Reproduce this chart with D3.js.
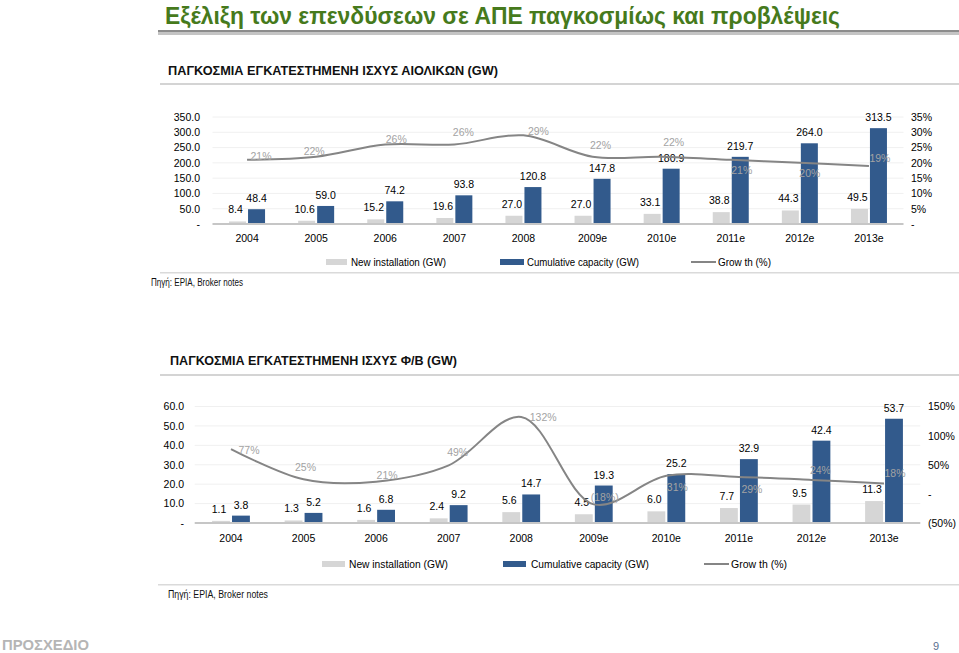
<!DOCTYPE html>
<html><head><meta charset="utf-8">
<script src="https://cdn.jsdelivr.net/npm/d3@7"></script>
<style>body{margin:0;background:#fff}svg{display:block}</style>
</head><body>
<svg id="c" width="959" height="653"></svg>
<script>
// ---------- DATA ----------
const years = ["2004","2005","2006","2007","2008","2009e","2010e","2011e","2012e","2013e"];
const windNew = [8.4,10.6,15.2,19.6,27.0,27.0,33.1,38.8,44.3,49.5];
const windCum = [48.4,59.0,74.2,93.8,120.8,147.8,180.9,219.7,264.0,313.5];
const windGrowth = [21,22,26,26,29,22,22,21,20,19];
const windLeftTicks = [0,50,100,150,200,250,300,350];
const windRightTicks = [0,5,10,15,20,25,30,35];
const pvNew = [1.1,1.3,1.6,2.4,5.6,4.5,6.0,7.7,9.5,11.3];
const pvCum = [3.8,5.2,6.8,9.2,14.7,19.3,25.2,32.9,42.4,53.7];
const pvGrowth = [77,25,21,49,132,-18,31,29,24,18];
const pvLeftTicks = [0,10,20,30,40,50,60];
const pvRightTicks = [-50,0,50,100,150];
const seriesNames = ["New  installation (GW)","Cumulative capacity (GW)","Grow th (%)"];

// ---------- LAYOUT (label nudges relative to line points) ----------
const windLabelNudge = [[14,-4],[-2,-6],[11,-6],[9,-13],[15,-4],[8,-12],[12,-15],[11,10],[10,10],[11,-8]];
const pvLabelNudge = [[18,1],[2,-12],[11,-7],[9,-13],[22,0],[11,-7],[11,11],[13,12],[9,-10],[11,-10]];

const svg = d3.select("#c");
const BLUE = "#325a8c", LGRAY = "#d6d6d6", LINE = "#858585", GLAB = "#a3a3a3";
const F = "'Liberation Sans', Arial, sans-serif";
const FN = "'Liberation Sans Narrow','Arial Narrow','Liberation Sans',Arial,sans-serif";

// ---------- header ----------
svg.append("text").attr("x",165).attr("y",24).attr("font-family",FN).attr("font-size",24)
  .attr("font-weight","bold")
  .attr("fill","#467a1c").attr("textLength",675).attr("lengthAdjust","spacingAndGlyphs")
  .text("Εξέλιξη των επενδύσεων σε ΑΠΕ παγκοσμίως και προβλέψεις");
svg.append("rect").attr("x",158).attr("y",30).attr("width",801).attr("height",2).attr("fill","#8c8c8c");
svg.append("rect").attr("x",158).attr("y",32).attr("width",801).attr("height",3).attr("fill","#c4c4c4");

function sectionTitle(txt, x, y, w, lineY){
  svg.append("text").attr("x",x).attr("y",y).attr("font-family",FN).attr("font-size",13.5)
    .attr("font-weight","bold").attr("fill","#111").attr("dominant-baseline","central")
    .attr("textLength",w).attr("lengthAdjust","spacingAndGlyphs").text(txt);
  svg.append("rect").attr("x",160).attr("y",lineY).attr("width",799).attr("height",2).attr("fill","#d4d4d4");
}
sectionTitle("ΠΑΓΚΟΣΜΙΑ ΕΓΚΑΤΕΣΤΗΜΕΝΗ ΙΣΧΥΣ ΑΙΟΛΙΚΩΝ (GW)",168,70,330,83);
sectionTitle("ΠΑΓΚΟΣΜΙΑ ΕΓΚΑΤΕΣΤΗΜΕΝΗ ΙΣΧΥΣ Φ/Β (GW)",170,360,287,374);

// ---------- chart builder ----------
function drawChart(o){
  const g = svg.append("g");
  const x0 = d3.scaleBand().domain(years).range(o.xr).paddingInner(0.479).paddingOuter(0.2395);
  const x1 = d3.scaleBand().domain(["new","cum"]).range([0,x0.bandwidth()]).paddingInner(0.105);
  const yL = d3.scaleLinear().domain(o.lDom).range([o.y0,o.yTop]);
  const yR = d3.scaleLinear().domain(o.rDom).range([o.y0,o.yTop]);
  const cx = d => x0(d)+x0.bandwidth()/2;

  // gridlines
  g.selectAll(".gl").data(o.lTicks.filter(t=>t>0)).join("line")
    .attr("x1",o.xr[0]).attr("x2",o.xr[1]).attr("y1",d=>yL(d)).attr("y2",d=>yL(d))
    .attr("stroke","#f0f0f0").attr("stroke-width",1);

  // left axis
  const la = d3.axisLeft(yL).tickValues(o.lTicks).tickSize(0).tickPadding(0)
    .tickFormat(d=> d===0 ? "-" : d3.format(".1f")(d));
  const lag = g.append("g").attr("transform",`translate(${o.lx},0)`).call(la);
  lag.select(".domain").remove();
  lag.selectAll("text").attr("font-family",F).attr("font-size",10.5).attr("fill","#000");

  // right axis
  const ra = d3.axisRight(yR).tickValues(o.rTicks).tickSize(0).tickPadding(0)
    .tickFormat(d=> d===0 ? "-" : (d<0 ? "("+(-d)+"%)" : d+"%"));
  const rag = g.append("g").attr("transform",`translate(${o.rx},0)`).call(ra);
  rag.select(".domain").remove();
  rag.selectAll("text").attr("font-family",F).attr("font-size",10.5).attr("fill","#000");

  // bars
  const rows = years.map((y,i)=>({y, n:o.nw[i], c:o.cum[i], g:o.gr[i], i}));
  g.selectAll(".bn").data(rows).join("rect")
    .attr("x",d=>x0(d.y)+x1("new")).attr("width",x1.bandwidth())
    .attr("y",d=>yL(d.n)).attr("height",d=>yL(0)-yL(d.n)).attr("fill",LGRAY);
  g.selectAll(".bc").data(rows).join("rect")
    .attr("x",d=>x0(d.y)+x1("cum")).attr("width",x1.bandwidth())
    .attr("y",d=>yL(d.c)).attr("height",d=>yL(0)-yL(d.c)).attr("fill",BLUE);

  // baseline
  g.append("line").attr("x1",o.xr[0]).attr("x2",o.xr[1]).attr("y1",yL(0)).attr("y2",yL(0))
    .attr("stroke","#c6c6c6").attr("stroke-width",2);

  // x axis labels
  const xa = d3.axisBottom(x0).tickSize(0).tickPadding(0);
  const xag = g.append("g").attr("transform",`translate(0,${o.yearY})`).call(xa);
  xag.select(".domain").remove();
  xag.selectAll("text").attr("font-family",F).attr("font-size",10.5).attr("fill","#000")
    .attr("dy",null).attr("dominant-baseline","central");

  // value labels
  g.selectAll(".vn").data(rows).join("text")
    .attr("x",d=>x0(d.y)+x1("new")+x1.bandwidth()/2-2).attr("y",d=>yL(d.n)-8)
    .attr("text-anchor","middle").attr("font-family",F).attr("font-size",10.5).attr("fill","#000")
    .text(d=>d3.format(".1f")(d.n));
  g.selectAll(".vc").data(rows).join("text")
    .attr("x",d=>x0(d.y)+x1("cum")+x1.bandwidth()/2).attr("y",d=>yL(d.c)-7)
    .attr("text-anchor","middle").attr("font-family",F).attr("font-size",10.5).attr("fill","#000")
    .text(d=>d3.format(".1f")(d.c));

  // growth line
  const line = d3.line().x(d=>cx(d.y)).y(d=>yR(d.g)).curve(d3.curveCatmullRom.alpha(0.5));
  g.append("path").datum(rows).attr("d",line).attr("fill","none")
    .attr("stroke",LINE).attr("stroke-width",2);
  g.selectAll(".gl2").data(rows).join("text")
    .attr("x",d=>cx(d.y)+o.nudge[d.i][0]).attr("y",d=>yR(d.g)+o.nudge[d.i][1])
    .attr("text-anchor","middle").attr("dominant-baseline","central")
    .attr("font-family",F).attr("font-size",10.5).attr("fill",GLAB)
    .text(d=> d.g<0 ? "("+(-d.g)+"%)" : d.g+"%");

  // legend
  const L = o.leg, ly = o.legY;
  g.append("rect").attr("x",L[0][0]).attr("y",ly-3).attr("width",L[0][1]-L[0][0]).attr("height",6).attr("fill",LGRAY);
  g.append("rect").attr("x",L[1][0]).attr("y",ly-3).attr("width",L[1][1]-L[1][0]).attr("height",6).attr("fill",BLUE);
  g.append("line").attr("x1",L[2][0]).attr("x2",L[2][1]).attr("y1",ly).attr("y2",ly).attr("stroke",LINE).attr("stroke-width",2);
  seriesNames.forEach((s,k)=>{
    g.append("text").attr("x",L[k][2]).attr("y",ly).attr("dominant-baseline","central")
      .attr("font-family",FN).attr("font-size",11).attr("fill","#000")
      .attr("textLength",L[k][3]).attr("lengthAdjust","spacingAndGlyphs").text(s);
  });
  svg.append("rect").attr("x",o.sepX).attr("y",o.sepY).attr("width",959-o.sepX).attr("height",1.5).attr("fill","#dadada");
  svg.append("text").attr("x",o.srcX).attr("y",o.srcY).attr("dominant-baseline","central")
    .attr("font-family",FN).attr("font-size",10).attr("fill","#111")
    .attr("textLength",o.srcW).attr("lengthAdjust","spacingAndGlyphs").text("Πηγή: EPIA, Broker notes");
}

drawChart({xr:[212.5,903.5], lDom:[0,350], rDom:[0,35], y0:224, yTop:117,
  lTicks:windLeftTicks, rTicks:windRightTicks, lx:200, rx:911, yearY:238,
  nw:windNew, cum:windCum, gr:windGrowth, nudge:windLabelNudge,
  legY:262, leg:[[326,347,351,95],[500,524,527,112],[691,716,718,53]],
  sepX:160, sepY:272, srcX:151, srcY:282, srcW:92});

drawChart({xr:[194.7,920.3], lDom:[0,60], rDom:[-50,150], y0:523, yTop:406.5,
  lTicks:pvLeftTicks, rTicks:pvRightTicks, lx:184, rx:928, yearY:538,
  nw:pvNew, cum:pvCum, gr:pvGrowth, nudge:pvLabelNudge,
  legY:564, leg:[[322,345,349,99],[503,526,531,118],[704,729,731,56]],
  sepX:158, sepY:584, srcX:168, srcY:594, srcW:100});

// footer
svg.append("text").attr("x",2).attr("y",650).attr("font-family",F).attr("font-size",15)
  .attr("font-weight","bold").attr("fill","#b5b5b5").attr("textLength",87)
  .attr("lengthAdjust","spacingAndGlyphs").text("ΠΡΟΣΧΕΔΙΟ");
svg.append("text").attr("x",933).attr("y",650).attr("font-family",F).attr("font-size",11)
  .attr("fill","#5a6f90").text("9");
</script>
</body></html>
